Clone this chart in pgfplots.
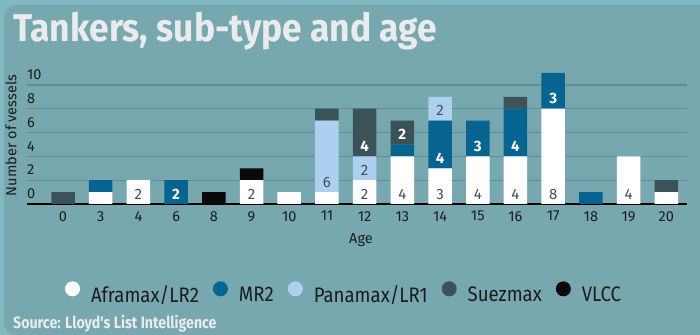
\documentclass[border=0pt]{standalone}
\usepackage{fontspec}
\setmainfont{Fira Sans}
\newfontfamily\titlefont[FakeStretch=0.915]{Fira Sans}
\newfontfamily\legfont[FakeStretch=0.885]{Fira Sans}
\newfontfamily\srcfont[FakeStretch=0.86]{Fira Sans}
\usepackage{pgfplots}
\pgfplotsset{compat=1.18}
\definecolor{outerc}{HTML}{82B8C1}
\definecolor{panelc}{HTML}{77A8AF}
\definecolor{gridc}{HTML}{5E8D93}
\definecolor{aframax}{HTML}{FFFFFF}
\definecolor{mrtwo}{HTML}{07638F}
\definecolor{panamax}{HTML}{AED0F0}
\definecolor{suez}{HTML}{3B5358}
\definecolor{vlcc}{HTML}{0A0A0A}
\definecolor{labdark}{HTML}{3B5358}
\definecolor{tickc}{HTML}{1C1C1C}
\definecolor{titlec}{HTML}{E9EBEC}
\begin{document}
\begin{tikzpicture}
\fill[outerc] (0bp,0bp) rectangle (700bp,335bp);
\fill[panelc, rounded corners=12bp] (4bp,0bp) rectangle (740bp,330bp);
\node[anchor=base west, inner sep=0pt, text=titlec, font={\titlefont\bfseries\fontsize{38.7bp}{44bp}\selectfont}] at (13bp,293.3bp) {Tankers, sub-type and age};
\begin{axis}[at={(27bp,131bp)}, anchor=south west, scale only axis,
  width=660bp, height=131bp,
  ybar stacked, bar width=23.5bp,
  xmin=-0.955, xmax=16.55, ymin=0, ymax=11,
  xtick={0,...,16},
  xticklabels={0,3,4,6,8,9,10,11,12,13,14,15,16,17,18,19,20},
  ytick={0,2,...,10},
  ymajorgrids, grid style={gridc, line width=1.3bp},
  axis x line*=bottom, axis y line*=left,
  x axis line style={black, line width=2bp, -},
  y axis line style={draw=none},
  major tick length=0pt, tick style={draw=none},
  ticklabel style={font=\fontsize{14.5bp}{17bp}\selectfont, text=tickc},
  /pgf/number format/assume math mode=true,
  xticklabel style={inner sep=0pt, anchor=north, yshift=-7bp},
  yticklabel style={anchor=south west, inner sep=0pt, yshift=5bp},
  xlabel={Age}, ylabel={Number of vessels},
  label style={font=\fontsize{14.5bp}{17bp}\selectfont, text=tickc},
  xlabel style={at={(axis description cs:0.506,-0.298)}, anchor=base},
  ylabel style={at={(axis description cs:-0.0242,0.523)}, anchor=center},
  legend style={at={(axis description cs:0.0576,-0.676)}, anchor=west,
    draw=none, fill=none, inner sep=0pt, outer sep=0pt,
    legend columns=-1, cells={anchor=west},
    font={\legfont\fontsize{21bp}{25bp}\selectfont},
    nodes={inner sep=0pt, text=tickc},
    /tikz/every odd column/.append style={column sep=11bp},
    /tikz/every even column/.append style={column sep=14bp}},
  legend image code/.code={\fill[#1] (0bp,5.7bp) circle (7.5bp);},
]
\addplot[fill=aframax, draw=none] coordinates {(0,0) (1,1) (2,2) (3,0) (4,0) (5,2) (6,1) (7,1) (8,2) (9,4) (10,3) (11,4) (12,4) (13,8) (14,0) (15,4) (16,1)};
\addlegendentry{Aframax/LR2}
\addplot[fill=mrtwo, draw=none] coordinates {(0,0) (1,1) (2,0) (3,2) (4,0) (5,0) (6,0) (7,0) (8,0) (9,1) (10,4) (11,3) (12,4) (13,3) (14,1) (15,0) (16,0)};
\addlegendentry{MR2}
\addplot[fill=panamax, draw=none] coordinates {(0,0) (1,0) (2,0) (3,0) (4,0) (5,0) (6,0) (7,6) (8,2) (9,0) (10,2) (11,0) (12,0) (13,0) (14,0) (15,0) (16,0)};
\addlegendentry{Panamax/LR1}
\addplot[fill=suez, draw=none] coordinates {(0,1) (1,0) (2,0) (3,0) (4,0) (5,0) (6,0) (7,1) (8,4) (9,2) (10,0) (11,0) (12,1) (13,0) (14,0) (15,0) (16,1)};
\addlegendentry{Suezmax}
\addplot[fill=vlcc, draw=none] coordinates {(0,0) (1,0) (2,0) (3,0) (4,1) (5,1) (6,0) (7,0) (8,0) (9,0) (10,0) (11,0) (12,0) (13,0) (14,0) (15,0) (16,0)};
\addlegendentry{VLCC}
\end{axis}
\begin{axis}[at={(27bp,131bp)}, anchor=south west, scale only axis,
  width=660bp, height=131bp,
  xmin=-0.955, xmax=16.55, ymin=0, ymax=11, hide axis, clip=false]
\addplot[only marks, mark=none, nodes near coords, point meta=explicit symbolic,
  every node near coord/.append style={anchor=center, yshift=10bp, inner sep=0pt,
    font=\fontsize{15bp}{18bp}\selectfont, text=labdark}]
  coordinates {(2,0)[2] (5,0)[2] (8,0)[2] (9,0)[4] (10,0)[3] (11,0)[4] (12,0)[4] (13,0)[8] (15,0)[4] (7,1)[6] (8,2)[2] (10,7)[2]};
\addplot[only marks, mark=none, nodes near coords, point meta=explicit symbolic,
  every node near coord/.append style={anchor=center, yshift=10bp, inner sep=0pt,
    font=\bfseries\fontsize{15bp}{18bp}\selectfont, text=white}]
  coordinates {(3,0)[2] (10,3)[4] (11,4)[3] (12,4)[4] (13,8)[3] (8,4)[4] (9,5)[2]};
\end{axis}
\node[anchor=base west, inner sep=0pt, text=titlec, font={\srcfont\bfseries\fontsize{16.5bp}{19bp}\selectfont}] at (13bp,7bp) {Source: Lloyd's List Intelligence};
\pgfresetboundingbox
\path[use as bounding box] (0bp,0bp) rectangle (700bp,335bp);
\end{tikzpicture}
\end{document}
